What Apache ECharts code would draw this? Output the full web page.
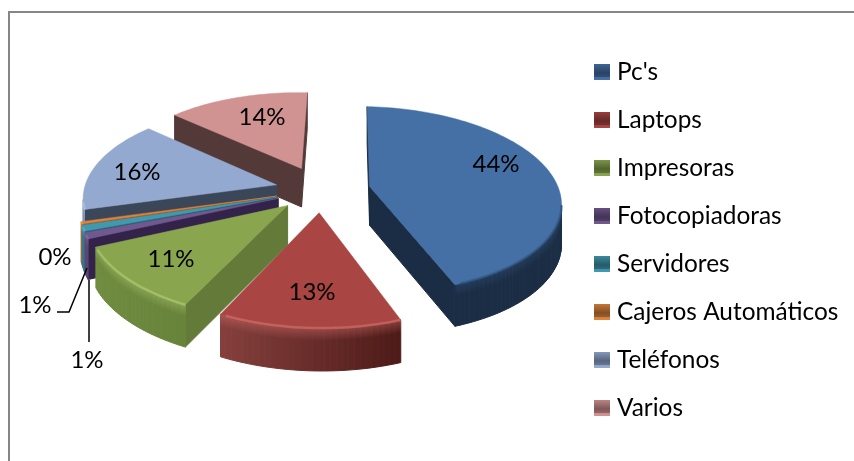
<!DOCTYPE html>
<html><head><meta charset="utf-8">
<style>html,body{margin:0;padding:0;background:#fff}#c{width:854px;height:461px}</style>
<script src="https://cdn.jsdelivr.net/npm/echarts@6/dist/echarts.min.js"></script>
</head><body><div id="c"></div>
<script>
const categories = ["Pc's","Laptops","Impresoras","Fotocopiadoras","Servidores","Cajeros Automáticos","Teléfonos","Varios"];
const shares = [44,13,11,1,1,0.4,16,14];

const topColors  = ['#4470A5','#A94542','#89A54E','#71588F','#4198AF','#DB843D','#93A9CF','#D19392'];
const radialCols = ['#1B2D45','#5F7835','#637A38','#33234A','#265C6B','#8A4F20','#3B4759','#533A39'];
const wallLeft   = ['#1B2D45','#85403D','#6F8C3F','#5A4673','#33788B','#B06A30','#7F93B5','#8F5F5E'];
const wallRight  = ['#1B2D45','#4D1A18','#5F7835','#33234A','#265C6B','#8A4F20','#3B4759','#533A39'];
const rimColors  = ['#2F5078','#D9716C','#B4CE74','#8C72AD','#5CB8D0','#F0A060','#B5CAEE','#E5B0AF'];
const depthOrder = [5,7,6,4,3,2,1,0];         // painter order, back to front
const explodeBy  = [0.26,0.24,0.24,0.24,0.24,0.24,0.24,0.26];
const labelXY = [[496,164],[312,292],[171,259],[87,360],[35,305],[55,257],[137,172],[262,117]];
const leaders = [null,null,null,[[89,280],[89,342]],[[87,268],[69,312],[57,312]],null,null,null];

const CX=321, CY=190, A=191, B=92, PERSP=0.14, SHEAR=4, TILT=4, DEPTH=39;
const total = shares.reduce((a,b)=>a+b,0);
const rad = d=>d*Math.PI/180;
function startAngle(i){let s=0;for(let k=0;k<i;k++)s+=shares[k];return s/total*360;}
function project(gx,gy){const w=1+PERSP*gy;return [CX+(A*gx+SHEAR*gy)/w, CY-(B*gy-TILT*gx)/w, Math.sqrt(1/w)];}
function lerp(c1,c2,f){
  const p=h=>[1,3,5].map(i=>parseInt(h.substr(i,2),16));
  const a=p(c1),b=p(c2);
  const v=a.map((x,i)=>Math.round(x+(b[i]-x)*f));
  return '#'+v.map(x=>x.toString(16).padStart(2,'0')).join('');
}
function slice(i){
  const t0=startAngle(i), t1=t0+shares[i]/total*360, bis=rad((t0+t1)/2);
  const ex=explodeBy[i]*Math.sin(bis), ey=explodeBy[i]*Math.cos(bis);
  const n=Math.max(3,Math.round((t1-t0)/1.5));
  const pts=[project(ex,ey)];
  for(let k=0;k<=n;k++){const t=rad(t0+(t1-t0)*k/n);pts.push(project(ex+Math.sin(t),ey+Math.cos(t)));}
  return pts;
}
function down(p){return [p[0],p[1]+DEPTH*p[2]];}

function renderSlice(i){
  return function(params,api){
    const kids=[];
    const pts=slice(i);
    const m=pts.length;
    const xs=pts.map(p=>p[0]);
    const minX=Math.min.apply(null,xs), maxX=Math.max.apply(null,xs);
    for(let k=0;k<m;k++){
      const p=pts[k], q=pts[(k+1)%m];
      if(q[0]-p[0]>=0) continue;
      const radial=(k===0||k===m-1);
      const f=(p[0]+q[0])/2;
      const c=radial?radialCols[i]:lerp(wallLeft[i],wallRight[i],(f-minX)/Math.max(1,maxX-minX));
      const fill=radial?c:new echarts.graphic.LinearGradient(0,0,0,1,[
        {offset:0,color:lerp(c,rimColors[i],0.45)},{offset:0.3,color:c},{offset:1,color:c}]);
      kids.push({type:'polygon',shape:{points:[p.slice(0,2),q.slice(0,2),down(q),down(p)]},
        style:{fill:fill,stroke:fill,lineWidth:1},silent:true});
    }
    kids.push({type:'polygon',shape:{points:pts.map(p=>p.slice(0,2))},
      style:{fill:topColors[i],stroke:topColors[i],lineWidth:0.5},silent:true});
    // bevelled rim along the near side of the arc
    const rim=[];
    for(let k=1;k<m-1;k++){ if(pts[k+1][0]<pts[k][0]) rim.push(pts[k].slice(0,2)); }
    if(rim.length>1){
      kids.push({type:'polyline',shape:{points:rim},style:{fill:null,stroke:rimColors[i],lineWidth:2.5,opacity:0.6,lineJoin:'round'},silent:true});
    }
    return {type:'group',children:kids};
  };
}

const series = categories.map((name,i)=>({
  type:'custom', name, coordinateSystem:'none', silent:true,
  z: 2+depthOrder[i], animation:false,
  itemStyle:{color:topColors[i]},
  data:[[shares[i]]],
  renderItem:renderSlice(i)
}));

const graphic=[{type:'rect',shape:{x:9,y:12,width:860,height:470},style:{fill:null,stroke:'#868686',lineWidth:2},silent:true,z:0}];
categories.forEach((name,i)=>{
  graphic.push({type:'text',x:labelXY[i][0],y:labelXY[i][1],z:30,
    style:{text:Math.round(shares[i]/total*100)+'%',font:'24px Lato',fill:'#000',textAlign:'center',textVerticalAlign:'middle'},silent:true});
  if(leaders[i]) graphic.push({type:'polyline',z:29,shape:{points:leaders[i]},style:{fill:null,stroke:'#000',lineWidth:1.5},silent:true});
});

const chart=echarts.init(document.getElementById('c'),null,{renderer:'canvas'});
chart.setOption({
  animation:false,
  backgroundColor:'#fff',
  legend:{
    orient:'vertical',left:594,top:60,padding:0,itemWidth:16,itemHeight:16,itemGap:24,selectedMode:false,
    icon:'rect',align:'left',
    textStyle:{fontFamily:'Lato',fontSize:24.4,color:'#000',padding:[0,0,0,2]},
    data:categories.map((name,i)=>({name,itemStyle:{color:new echarts.graphic.LinearGradient(0,0,0,1,[
      {offset:0,color:lerp(topColors[i],'#000000',0.1)},
      {offset:0.55,color:lerp(topColors[i],'#000000',0.4)},
      {offset:0.8,color:lerp(topColors[i],'#000000',0.3)},
      {offset:0.85,color:topColors[i]},
      {offset:1,color:topColors[i]}])}}))
  },
  series,
  graphic
});
</script></body></html>
